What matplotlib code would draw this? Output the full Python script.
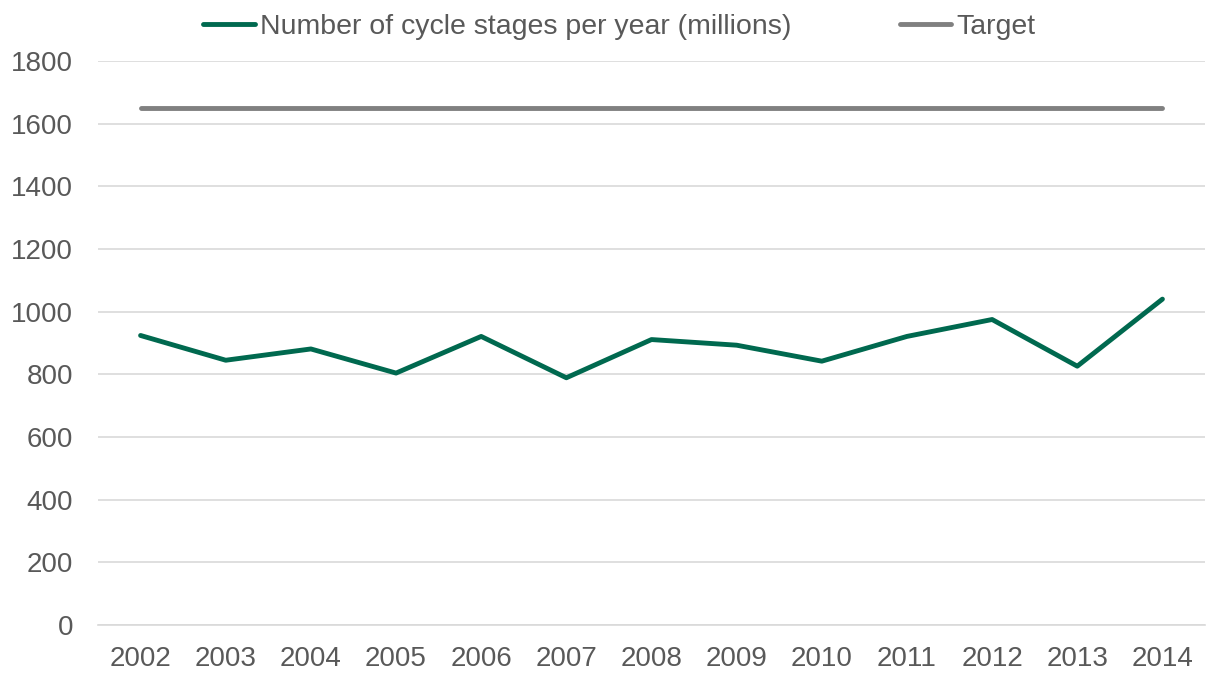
import matplotlib.pyplot as plt

plt.rcParams['font.family'] = ['Liberation Sans', 'DejaVu Sans']

years = ['2002', '2003', '2004', '2005', '2006', '2007', '2008',
         '2009', '2010', '2011', '2012', '2013', '2014']
stages = [924, 845, 881, 804, 921, 789, 911, 893, 842, 921, 975, 826, 1040]
target = [1650] * len(years)

text_col = '#595959'
fig = plt.figure(figsize=(12.08, 6.75), dpi=100)
ax = fig.add_axes([98 / 1208, 50 / 675, 1107 / 1208, 564 / 675])

x = range(len(years))
ax.plot(x, stages, color='#00694F', lw=3.5, solid_capstyle='round',
        label='Number of cycle stages per year (millions)')
ax.plot(x, target, color='#808080', lw=3.5, solid_capstyle='round', label='Target')

ax.set_xlim(-0.5, len(years) - 0.5)
ax.set_ylim(0, 1800)
ax.set_yticks(range(0, 1801, 200))
ax.set_xticks(list(x))
ax.set_xticklabels(years)
ax.grid(axis='y', color='#d9d9d9', lw=1.2)
ax.set_axisbelow(True)
for s in ['top', 'right', 'left']:
    ax.spines[s].set_visible(False)
ax.spines['bottom'].set_color('#d9d9d9')
ax.spines['bottom'].set_linewidth(1.2)
ax.tick_params(axis='both', length=0, labelsize=20, colors=text_col)
ax.tick_params(axis='y', pad=18)
ax.tick_params(axis='x', pad=15)

fig.legend(loc='upper center', bbox_to_anchor=(0.513, 1.017), ncol=2, frameon=False,
           fontsize=20.5, labelcolor=text_col, handlelength=1.8, handletextpad=0.2,
           columnspacing=3.8)

fig.savefig('out.png', dpi=100)
